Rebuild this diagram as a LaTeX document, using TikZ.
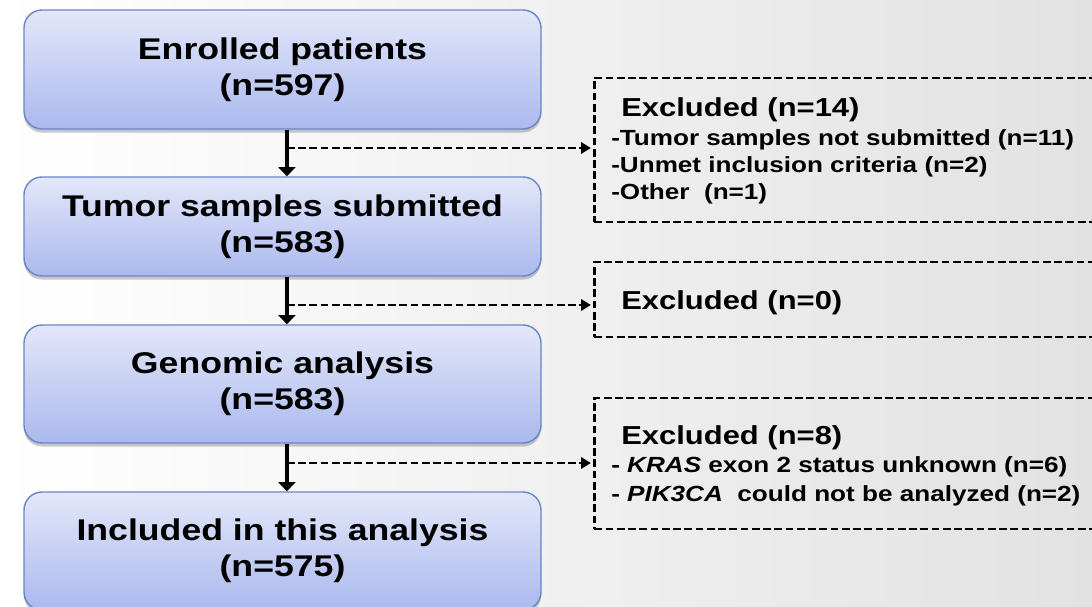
\documentclass[tikz,border=0pt]{standalone}
\usepackage{fontspec}
\setmainfont{Liberation Sans}[FakeStretch=1.19]
\usepackage{tikz}
\usetikzlibrary{arrows.meta, positioning, shadows}
\definecolor{boxTop}{RGB}{227, 231, 249}
\definecolor{boxBottom}{RGB}{171, 185, 238}
\definecolor{boxBorder}{RGB}{106, 133, 200}
\definecolor{bgGray}{RGB}{226, 226, 226}
\tikzset{
  stepbox/.style={draw=boxBorder, line width=1pt, rounded corners=0.45cm,
    top color=boxTop, bottom color=boxBottom, minimum width=12.925cm, align=center,
    font=\fontsize{21.3}{25.6}\selectfont\bfseries,
    drop shadow={shadow xshift=0pt, shadow yshift=-2.5pt, opacity=0.3, fill=black!70}},
  exclbox/.style={draw=black, line width=1.9pt, dash pattern=on 5.5pt off 2.5pt,
    minimum width=13.2cm, anchor=west},
  flowarrow/.style={line width=2.8pt, -{Triangle[width=12pt,length=6.5pt]}},
  exclarrow/.style={line width=1.9pt, dash pattern=on 5.5pt off 2.5pt,
    -{Triangle[width=8pt,length=7pt]}, shorten >=1.5pt},
  hdrtext/.style={font=\fontsize{18.5}{22}\selectfont\bfseries, anchor=base west, inner sep=0pt},
  itemtext/.style={font=\fontsize{15.6}{19.2}\selectfont\bfseries, anchor=base west, inner sep=0pt},
}

\begin{document}
\begin{tikzpicture}
	\useasboundingbox (0,0) rectangle (27.3,15.15);
	\clip (0,0) rectangle (27.3,15.15);
	% background
	\shade[left color=white, middle color=white, right color=bgGray] (0,0) rectangle (27.3,15.15);
	% main steps
	\node[stepbox, minimum height=2.975cm] (enrolled) at (7.0625,13.4125) {Enrolled patients\\(n=597)};
	\node[stepbox, minimum height=2.475cm] (submitted) at (7.0625,9.4875) {Tumor samples submitted\\(n=583)};
	\node[stepbox, minimum height=2.95cm] (genomic) at (7.0625,5.55) {Genomic analysis\\(n=583)};
	\node[stepbox, minimum height=2.95cm] (included) at (7.0625,1.375) {Included in this analysis\\(n=575)};
	% exclusion boxes
	\node[exclbox, minimum height=3.6cm] (exclA) at (14.825,11.4) {};
	\node[exclbox, minimum height=1.875cm] (exclB) at (14.825,7.6625) {};
	\node[exclbox, minimum height=3.275cm] (exclC) at (14.825,3.5625) {};
	% exclusion texts
	\node[hdrtext] (exclAhdr) at (15.525,12.2325) {Excluded (n=14)};
	\node[itemtext] (exclA1) at (15.275,11.5) {-Tumor samples not submitted (n=11)};
	\node[itemtext] (exclA2) at (15.275,10.8325) {-Unmet inclusion criteria (n=2)};
	\node[itemtext] (exclA3) at (15.275,10.15) {-Other\ \ (n=1)};
	\node[hdrtext] (exclBhdr) at (15.525,7.4) {Excluded (n=0)};
	\node[hdrtext] (exclChdr) at (15.525,4.025) {Excluded (n=8)};
	\node[itemtext] (exclC1) at (15.275,3.325) {- \textit{KRAS} exon 2 status unknown (n=6)};
	\node[itemtext] (exclC2) at (15.275,2.6) {- \textit{PIK3CA}\ \ could not be analyzed (n=2)};
	% flow arrows
	\draw[flowarrow] ([xshift=0.11cm]enrolled.south) -- ([xshift=0.11cm]submitted.north);
	\draw[flowarrow] ([xshift=0.11cm]submitted.south) -- ([xshift=0.11cm]genomic.north);
	\draw[flowarrow] ([xshift=0.11cm]genomic.south) -- ([xshift=0.11cm]included.north);
	% branches to the exclusions
	\coordinate (brA) at (7.175,11.45);
	\coordinate (brB) at (7.175,7.525);
	\coordinate (brC) at (7.175,3.575);
	\draw[exclarrow] (brA) -- (brA -| exclA.west);
	\draw[exclarrow] (brB) -- (brB -| exclB.west);
	\draw[exclarrow] (brC) -- (brC -| exclC.west);
\end{tikzpicture}
\end{document}
